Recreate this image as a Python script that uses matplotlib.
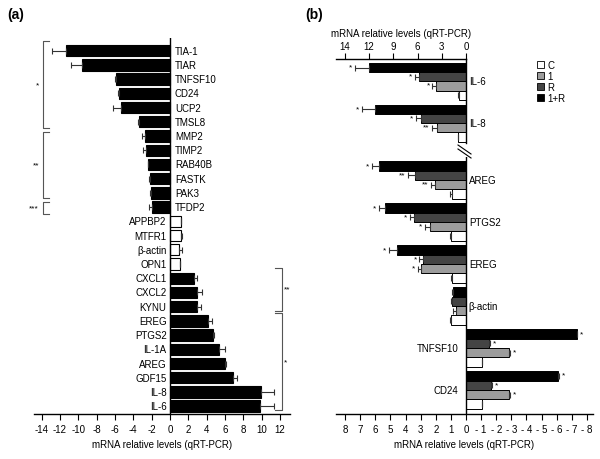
import matplotlib
matplotlib.use('Agg')
import matplotlib.pyplot as plt
from matplotlib.lines import Line2D
from matplotlib.patches import Patch
import numpy as np

plt.rcParams['font.family'] = ['Liberation Sans', 'DejaVu Sans']
plt.rcParams['axes.unicode_minus'] = False
plt.rcParams['font.size'] = 7

# ---- data, panel (a)
genes_a = ['TIA-1', 'TIAR', 'TNFSF10', 'CD24', 'UCP2', 'TMSL8', 'MMP2', 'TIMP2',
           'RAB40B', 'FASTK', 'PAK3', 'TFDP2', 'APPBP2', 'MTFR1', 'β-actin', 'OPN1',
           'CXCL1', 'CXCL2', 'KYNU', 'EREG', 'PTGS2', 'IL-1A', 'AREG', 'GDF15',
           'IL-8', 'IL-6']
vals_a = [-11.3, -9.6, -5.9, -5.6, -5.3, -3.4, -2.7, -2.6,
          -2.4, -2.2, -2.1, -2.0, 1.25, 1.2, 1.0, 1.1,
          2.6, 2.9, 3.0, 4.2, 4.7, 5.3, 6.0, 6.9,
          9.9, 9.85]
err_a = [1.6, 1.2, 0.05, 0.05, 0.9, 0.05, 0.3, 0.3,
         0.05, 0.05, 0.05, 0.3, 0.0, 0.1, 0.3, 0.0,
         0.4, 0.6, 0.4, 0.4, 0.1, 0.65, 0.1, 0.4,
         1.4, 1.5]
controls_a = ['APPBP2', 'MTFR1', 'β-actin', 'OPN1']
# significance brackets: (first row, last row, side, label)
groups_a = [(-0.7, 5.45, 'left', '*'), (5.75, 10.38, 'left', '**'),
            (10.66, 11.48, 'left', '***'), (15.28, 18.28, 'right', '**'),
            (18.47, 25.27, 'right', '*')]

# ---- data, panel (b)
genes_b = ['IL-6', 'IL-8', 'AREG', 'PTGS2', 'EREG', 'β-actin', 'TNFSF10', 'CD24']
series_b = ['C', '1', 'R', '1+R']
vals_b = {
    'C':   [0.92, 1.0, 0.95, 1.0, 0.95, 1.0, -1.04, -1.04],
    '1':   [3.7, 3.6, 2.05, 2.4, 2.98, 0.66, -2.84, -2.86],
    'R':   [5.83, 5.6, 3.37, 3.42, 2.82, 0.93, -1.54, -1.65],
    '1+R': [12.0, 11.3, 5.75, 5.36, 4.54, 0.88, -7.32, -6.1],
}
err_b = {
    'C':   [0.05, 0.05, 0.1, 0.05, 0.05, 0.05, 0.05, 0.05],
    '1':   [0.45, 0.6, 0.25, 0.33, 0.18, 0.21, 0.05, 0.05],
    'R':   [0.5, 0.55, 0.48, 0.28, 0.26, 0.05, 0.05, 0.05],
    '1+R': [1.8, 1.6, 0.45, 0.37, 0.55, 0.05, 0.05, 0.05],
}
sig_b = {
    'C':   ['', '', '', '', '', '', '', ''],
    '1':   ['*', '**', '**', '*', '*', '', '*', '*'],
    'R':   ['*', '*', '**', '*', '*', '', '*', '*'],
    '1+R': ['*', '*', '*', '*', '*', '', '*', '*'],
}
n_top = 2  # IL-6 and IL-8 on the upper scale
top_ticks = [15, 12, 9, 6, 3, 0]
top_ticklabels = ['14', '12', '9', '6', '3', '0']

colors_b = {'C': 'white', '1': '#9c9c9c', 'R': '#444444', '1+R': 'black'}
W, H = 600, 460


def box(l, t, r, b):
    return [l / W, 1 - b / H, (r - l) / W, (b - t) / H]


def one_sided(v, e):
    v = np.asarray(v); e = np.asarray(e)
    return [np.where(v < 0, e, 0), np.where(v >= 0, e, 0)]


fig = plt.figure(figsize=(6, 4.6), dpi=100)

# ================= panel (a)
ax = fig.add_axes(box(34, 39, 290, 415))
y = np.arange(len(genes_a))
cols = ['white' if g in controls_a else 'black' for g in genes_a]
ax.barh(y, vals_a, height=0.8, color=cols, edgecolor='black', linewidth=0.8)
ax.errorbar(vals_a, y, xerr=one_sided(vals_a, err_a), fmt='none', ecolor='#333333',
            elinewidth=0.8, capsize=2.5, capthick=0.8)
ax.axvline(0, color='black', lw=1)
ax.set_xlim(-14.83, 13.09)
ax.set_ylim(25.55, -0.89)
for s in ['top', 'right', 'left']:
    ax.spines[s].set_visible(False)
ax.spines['bottom'].set_linewidth(1)
ax.set_yticks([])
ax.set_xticks(range(-14, 13, 2))
ax.tick_params(axis='x', length=4.5, width=0.8, pad=2.5, labelsize=7)
ax.set_xlabel('mRNA relative levels (qRT-PCR)', fontsize=7, labelpad=4)
for i, (g, v) in enumerate(zip(genes_a, vals_a)):
    if v < 0:
        ax.annotate(g, (0, i), xytext=(3.5, 0), textcoords='offset points',
                    ha='left', va='center', fontsize=7)
    else:
        ax.annotate(g, (0, i), xytext=(-2.5, 0), textcoords='offset points',
                    ha='right', va='center', fontsize=7)
for y0, y1, side, lab in groups_a:
    if side == 'left':
        x, arm, tx = -13.88, 0.65, -14.45 - 0.2 * (len(lab) - 1)
    else:
        x, arm, tx = 12.18, -0.7, 12.6 + 0.2 * (len(lab) - 1)
    ax.plot([x + arm, x, x, x + arm], [y0, y0, y1, y1], color='#555555', lw=0.8,
            clip_on=False)
    ax.text(tx, (y0 + y1) / 2, lab, ha='center', va='center', fontsize=6)

# ================= panel (b)
offs = {'C': 0.333, '1': 0.111, 'R': -0.111, '1+R': -0.333}
axT = fig.add_axes(box(336, 60, 466, 144))
axB = fig.add_axes(box(336, 158, 593, 415))
axT.set_xlim(16.1, 0)
axT.set_ylim(1.48, -0.54)
axB.set_xlim(8.6, -8.4)
axB.set_ylim(5.57, -0.55)

for a, idx in [(axT, range(0, n_top)), (axB, range(n_top, len(genes_b)))]:
    idx = list(idx)
    yc = np.arange(len(idx))
    for s in series_b:
        v = [vals_b[s][k] for k in idx]
        e = [err_b[s][k] for k in idx]
        a.barh(yc + offs[s], v, height=0.222, color=colors_b[s],
               edgecolor='black', linewidth=0.7)
        a.errorbar(v, yc + offs[s], xerr=one_sided(v, e), fmt='none',
                   ecolor='#333333', elinewidth=0.8, capsize=2.2, capthick=0.8)
        for j, k in enumerate(idx):
            lab = sig_b[s][k]
            if not lab:
                continue
            vv, ee = vals_b[s][k], err_b[s][k]
            if vv >= 0:
                a.annotate(lab, (vv + ee, j + offs[s]), xytext=(-2, 0.5),
                           textcoords='offset points', ha='right', va='center',
                           fontsize=6)
            else:
                a.annotate(lab, (vv - ee, j + offs[s]), xytext=(2, 0.5),
                           textcoords='offset points', ha='left', va='center',
                           fontsize=6)
    for j, k in enumerate(idx):
        if vals_b['1+R'][k] >= 0:
            a.annotate(genes_b[k], (0, j), xytext=(2, 0), textcoords='offset points',
                       ha='left', va='center', fontsize=7, annotation_clip=False)
        else:
            a.annotate(genes_b[k], (0, j), xytext=(-5.5, 0), textcoords='offset points',
                       ha='right', va='center', fontsize=7, annotation_clip=False)
    a.set_yticks([])

for s in ['bottom', 'left']:
    axT.spines[s].set_visible(False)
axT.spines['top'].set_linewidth(1)
axT.spines['right'].set_linewidth(1)
axT.xaxis.tick_top()
axT.xaxis.set_label_position('top')
axT.set_xticks(top_ticks)
axT.set_xticklabels(top_ticklabels)
axT.tick_params(axis='x', length=4, width=0.8, pad=2, labelsize=7)
axT.set_xlabel('mRNA relative levels (qRT-PCR)', fontsize=7, labelpad=3)

for s in ['top', 'right', 'left']:
    axB.spines[s].set_visible(False)
axB.spines['bottom'].set_linewidth(1)
axB.axvline(0, color='black', lw=1)
bt = list(range(8, -9, -1))
axB.set_xticks(bt)
axB.set_xticklabels([str(t) if t >= 0 else '- %d' % -t for t in bt])
axB.tick_params(axis='x', length=4.5, width=0.8, pad=2.5, labelsize=7)
axB.set_xlabel('mRNA relative levels (qRT-PCR)', fontsize=7, labelpad=4)

# axis break marks
for y0 in (146, 150):
    fig.add_artist(Line2D([458 / W, 471 / W], [1 - y0 / H, 1 - (y0 + 9) / H],
                          color='black', lw=0.8))

handles = [Patch(facecolor=colors_b[s], edgecolor='black', lw=0.6, label=s)
           for s in series_b]
fig.legend(handles=handles, loc='upper left', bbox_to_anchor=(537 / W, 1 - 61 / H),
           frameon=False, fontsize=7, handlelength=0.75, handleheight=0.75,
           handletextpad=0.3, labelspacing=0.1, borderaxespad=0, borderpad=0)

fig.text(7 / W, 1 - 15 / H, '(a)', fontsize=10, fontweight='bold', va='center')
fig.text(305 / W, 1 - 15 / H, '(b)', fontsize=10, fontweight='bold', va='center')

fig.savefig('out.png', dpi=100)
